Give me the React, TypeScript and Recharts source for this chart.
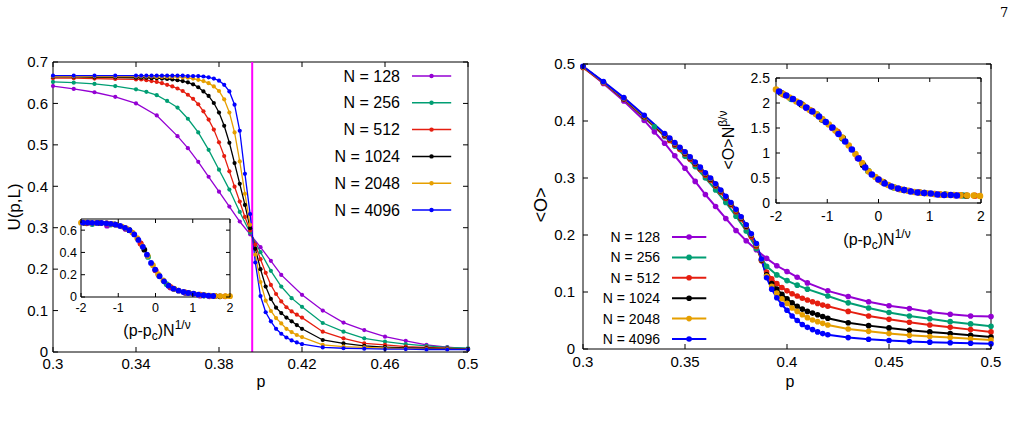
import { LineChart, Line, XAxis, YAxis, ReferenceLine } from 'recharts'

const FONT = '"Liberation Sans", Arial, Helvetica, sans-serif'

const SIZES = ['128', '256', '512', '1024', '2048', '4096']
const COLORS = ['#9400d3', '#009e73', '#e51e10', '#000000', '#e69f00', '#0000ff']
const P_C = 0.396

// tick labels
const LEFT_X_TICKS = [0.3, 0.34, 0.38, 0.42, 0.46, 0.5]
const LEFT_Y_TICKS = [0, 0.1, 0.2, 0.3, 0.4, 0.5, 0.6, 0.7]
const RIGHT_X_TICKS = [0.3, 0.35, 0.4, 0.45, 0.5]
const RIGHT_Y_TICKS = [0, 0.1, 0.2, 0.3, 0.4, 0.5]
const INSET_X_TICKS = [-2, -1, 0, 1, 2]
const LEFT_INSET_Y_TICKS = [0, 0.2, 0.4, 0.6]
const RIGHT_INSET_Y_TICKS = [0, 0.5, 1, 1.5, 2, 2.5]

// p grids
const P_U128 = [0.30, 0.31, 0.32, 0.33, 0.34, 0.35, 0.36, 0.365, 0.37, 0.375, 0.38, 0.385, 0.39, 0.395, 0.40, 0.405, 0.41, 0.42, 0.43, 0.44, 0.45, 0.46, 0.47, 0.48, 0.49, 0.50]
const P_U256 = [0.30, 0.31, 0.32, 0.33, 0.34, 0.345, 0.35, 0.355, 0.36, 0.365, 0.37, 0.375, 0.38, 0.385, 0.39, 0.395, 0.40, 0.405, 0.41, 0.415, 0.42, 0.43, 0.44, 0.45, 0.46, 0.47, 0.48, 0.49, 0.50]
const P_DENSE = [
  0.30, 0.31, 0.32, 0.33,
  0.34, 0.3425, 0.345, 0.3475, 0.35, 0.3525, 0.355, 0.3575, 0.36, 0.3625, 0.365, 0.3675, 0.37, 0.3725, 0.375, 0.3775, 0.38,
  0.3825, 0.385, 0.3875, 0.39, 0.3925, 0.395, 0.3975, 0.40, 0.4025, 0.405, 0.4075, 0.41, 0.4125, 0.415, 0.4175, 0.42,
  0.43, 0.44, 0.45, 0.46, 0.47, 0.48, 0.49, 0.50,
]
const P_O_SPARSE = [0.30, 0.31, 0.32, 0.33, 0.335, 0.34, 0.345, 0.35, 0.355, 0.36, 0.365, 0.37, 0.375, 0.38, 0.385, 0.39, 0.395, 0.40, 0.405, 0.41, 0.42, 0.43, 0.44, 0.45, 0.46, 0.47, 0.48, 0.49, 0.50]

// U(p,L)
const U128 = [0.642, 0.635, 0.627, 0.616, 0.600, 0.571, 0.521, 0.492, 0.459, 0.423, 0.387, 0.351, 0.315, 0.284, 0.253, 0.220, 0.186, 0.138, 0.100, 0.071, 0.053, 0.037, 0.027, 0.017, 0.012, 0.008]
const U256 = [0.652, 0.650, 0.647, 0.642, 0.634, 0.628, 0.620, 0.606, 0.590, 0.563, 0.530, 0.488, 0.440, 0.392, 0.338, 0.288, 0.241, 0.196, 0.158, 0.130, 0.109, 0.070, 0.049, 0.033, 0.025, 0.019, 0.015, 0.011, 0.009]
const U512 = [
  0.661, 0.661, 0.660, 0.659,
  0.658, 0.658, 0.656, 0.654, 0.652, 0.649, 0.645, 0.641, 0.636, 0.630, 0.621, 0.611, 0.598, 0.581, 0.561, 0.537, 0.506,
  0.473, 0.436, 0.399, 0.363, 0.326, 0.293, 0.259, 0.224, 0.191, 0.162, 0.140, 0.122, 0.108, 0.098, 0.090, 0.083,
  0.049, 0.033, 0.021, 0.017, 0.013, 0.011, 0.009, 0.007,
]
const U1024 = [
  0.664, 0.664, 0.663, 0.663,
  0.662, 0.662, 0.662, 0.661, 0.661, 0.660, 0.659, 0.658, 0.656, 0.654, 0.651, 0.646, 0.639, 0.629, 0.618, 0.601, 0.578,
  0.546, 0.505, 0.456, 0.406, 0.355, 0.299, 0.249, 0.200, 0.158, 0.128, 0.107, 0.094, 0.083, 0.074, 0.065, 0.056,
  0.029, 0.021, 0.015, 0.012, 0.010, 0.009, 0.008, 0.007,
]
const U2048 = [
  0.665, 0.665, 0.665, 0.665,
  0.665, 0.665, 0.665, 0.665, 0.664, 0.664, 0.664, 0.664, 0.664, 0.663, 0.662, 0.660, 0.657, 0.654, 0.649, 0.641, 0.630,
  0.610, 0.578, 0.530, 0.460, 0.382, 0.307, 0.235, 0.169, 0.124, 0.099, 0.082, 0.069, 0.056, 0.048, 0.041, 0.036,
  0.017, 0.013, 0.011, 0.009, 0.008, 0.007, 0.007, 0.006,
]
const U4096 = [
  0.667, 0.667, 0.667, 0.667,
  0.667, 0.667, 0.667, 0.667, 0.667, 0.667, 0.667, 0.667, 0.667, 0.667, 0.666, 0.666, 0.666, 0.665, 0.663, 0.660, 0.655,
  0.645, 0.629, 0.597, 0.534, 0.430, 0.333, 0.216, 0.135, 0.096, 0.074, 0.056, 0.044, 0.035, 0.028, 0.023, 0.019,
  0.011, 0.009, 0.008, 0.007, 0.007, 0.006, 0.006, 0.006,
]

// <O>
const O128 = [0.495, 0.466, 0.435, 0.401, 0.381, 0.361, 0.339, 0.317, 0.294, 0.271, 0.250, 0.229, 0.208, 0.190, 0.174, 0.159, 0.146, 0.136, 0.126, 0.116, 0.102, 0.092, 0.083, 0.076, 0.071, 0.065, 0.061, 0.058, 0.057]
const O256 = [0.495, 0.468, 0.438, 0.406, 0.390, 0.373, 0.356, 0.338, 0.320, 0.300, 0.279, 0.257, 0.233, 0.207, 0.176, 0.145, 0.130, 0.120, 0.112, 0.105, 0.093, 0.081, 0.072, 0.064, 0.058, 0.053, 0.048, 0.044, 0.040]
const O512 = [
  0.494, 0.467, 0.438, 0.407,
  0.374, 0.366, 0.358, 0.350, 0.342, 0.333, 0.324, 0.315, 0.305, 0.296, 0.286, 0.275, 0.264, 0.253, 0.241, 0.228, 0.214,
  0.197, 0.180, 0.155, 0.135, 0.123, 0.115, 0.108, 0.102, 0.097, 0.093, 0.089, 0.086, 0.083, 0.080, 0.077, 0.075,
  0.066, 0.058, 0.052, 0.047, 0.042, 0.038, 0.034, 0.030,
]
const O1024 = [
  0.495, 0.468, 0.439, 0.408,
  0.376, 0.368, 0.360, 0.352, 0.344, 0.335, 0.326, 0.317, 0.307, 0.298, 0.288, 0.277, 0.266, 0.255, 0.243, 0.230, 0.216,
  0.200, 0.182, 0.156, 0.130, 0.115, 0.105, 0.096, 0.088, 0.081, 0.075, 0.070, 0.066, 0.063, 0.060, 0.057, 0.054,
  0.046, 0.041, 0.037, 0.033, 0.030, 0.027, 0.024, 0.021,
]
const O2048 = [
  0.495, 0.468, 0.440, 0.409,
  0.377, 0.369, 0.361, 0.353, 0.345, 0.336, 0.327, 0.318, 0.308, 0.299, 0.289, 0.278, 0.267, 0.256, 0.244, 0.231, 0.217,
  0.201, 0.183, 0.157, 0.128, 0.110, 0.098, 0.088, 0.080, 0.072, 0.066, 0.060, 0.055, 0.051, 0.048, 0.045, 0.042,
  0.035, 0.031, 0.027, 0.024, 0.022, 0.020, 0.018, 0.016,
]
const O4096 = [
  0.496, 0.469, 0.441, 0.410,
  0.378, 0.370, 0.362, 0.354, 0.346, 0.337, 0.328, 0.319, 0.309, 0.300, 0.290, 0.279, 0.268, 0.257, 0.245, 0.232, 0.218,
  0.202, 0.185, 0.158, 0.125, 0.105, 0.090, 0.078, 0.068, 0.058, 0.050, 0.043, 0.038, 0.034, 0.030, 0.027, 0.025,
  0.020, 0.017, 0.015, 0.013, 0.012, 0.011, 0.010, 0.009,
]

// inset: U vs (p-pc)N^(1/nu)
const INS_U128 = [[-1.3, 0.64], [-0.8, 0.61], [-0.4, 0.48], [0, 0.24], [0.4, 0.085], [0.8, 0.035], [1.2, 0.012], [1.45, 0.006]]
const INS_U256 = [[-1.7, 0.655], [-1.2, 0.65], [-0.7, 0.598], [-0.2, 0.36], [0.3, 0.115], [0.8, 0.04], [1.3, 0.013], [1.6, 0.008]]
const INS_U512 = [[-1.85, 0.662], [-1.3, 0.66], [-0.8, 0.618], [-0.4, 0.48], [0, 0.24], [0.4, 0.09], [0.8, 0.042], [1.2, 0.02], [1.6, 0.01], [1.87, 0.006]]
const INS_U1024 = [[-1.9, 0.665], [-1.5, 0.664], [-1.1, 0.652], [-0.7, 0.6], [-0.3, 0.425], [0.1, 0.19], [0.5, 0.073], [0.9, 0.035], [1.3, 0.015], [1.73, 0.006]]
const INS_U2048 = [
  [-2.0, 0.667], [-1.88, 0.667], [-1.74, 0.666], [-1.6, 0.665], [-1.46, 0.664], [-1.32, 0.661], [-1.18, 0.656], [-1.04, 0.647],
  [-0.9, 0.632], [-0.76, 0.612], [-0.62, 0.578], [-0.49, 0.528], [-0.35, 0.455], [-0.21, 0.37], [-0.07, 0.285], [0.07, 0.205],
  [0.21, 0.148], [0.35, 0.104], [0.49, 0.074], [0.62, 0.057], [0.76, 0.044], [0.9, 0.035], [1.04, 0.028], [1.18, 0.021],
  [1.32, 0.016], [1.46, 0.012], [1.6, 0.01], [1.74, 0.008], [1.88, 0.007], [2.0, 0.007],
]
const INS_U4096 = [
  [-1.95, 0.667], [-1.82, 0.667], [-1.7, 0.666], [-1.57, 0.665], [-1.45, 0.664], [-1.32, 0.661], [-1.2, 0.657], [-1.07, 0.649],
  [-0.95, 0.637], [-0.82, 0.621], [-0.7, 0.6], [-0.57, 0.562], [-0.46, 0.512], [-0.34, 0.45], [-0.23, 0.38], [-0.12, 0.306],
  [-0.01, 0.246], [0.11, 0.186], [0.23, 0.141], [0.35, 0.102], [0.48, 0.075], [0.62, 0.057], [0.75, 0.045], [0.88, 0.036],
  [1.02, 0.029], [1.15, 0.021], [1.29, 0.016], [1.42, 0.012], [1.55, 0.009],
]

// inset: <O>N^(beta/nu) vs (p-pc)N^(1/nu)
const INS_O128 = [[-1.4, 1.9], [-0.9, 1.5], [-0.4, 0.9], [0.1, 0.41], [0.6, 0.24], [1.1, 0.18], [1.5, 0.155]]
const INS_O256 = [[-1.7, 2.08], [-1.2, 1.77], [-0.7, 1.29], [-0.2, 0.64], [0.3, 0.31], [0.8, 0.21], [1.3, 0.165], [1.65, 0.15]]
const INS_O512 = [[-1.85, 2.17], [-1.3, 1.84], [-0.8, 1.42], [-0.4, 0.9], [0, 0.47], [0.4, 0.28], [0.8, 0.21], [1.2, 0.17], [1.6, 0.155], [1.88, 0.145]]
const INS_O1024 = [[-1.9, 2.2], [-1.5, 1.97], [-1.1, 1.67], [-0.7, 1.3], [-0.3, 0.76], [0.1, 0.41], [0.5, 0.26], [0.9, 0.2], [1.3, 0.165], [1.72, 0.145]]
const INS_O2048 = [
  [-2.0, 2.27], [-1.88, 2.19], [-1.74, 2.11], [-1.6, 2.03], [-1.47, 1.95], [-1.34, 1.86], [-1.22, 1.78], [-1.1, 1.68],
  [-0.97, 1.57], [-0.84, 1.45], [-0.71, 1.31], [-0.58, 1.15], [-0.45, 0.98], [-0.32, 0.8], [-0.19, 0.63], [-0.06, 0.52],
  [0.06, 0.43], [0.19, 0.36], [0.31, 0.31], [0.44, 0.27], [0.57, 0.245], [0.7, 0.22], [0.82, 0.205], [0.95, 0.195],
  [1.08, 0.18], [1.21, 0.17], [1.34, 0.165], [1.47, 0.16], [1.6, 0.155], [1.73, 0.15], [1.86, 0.15], [1.98, 0.14],
]
const INS_O4096 = [
  [-1.94, 2.23], [-1.8, 2.15], [-1.67, 2.08], [-1.54, 2.0], [-1.41, 1.91], [-1.29, 1.83], [-1.16, 1.73], [-1.03, 1.62],
  [-0.9, 1.51], [-0.78, 1.38], [-0.65, 1.23], [-0.52, 1.07], [-0.39, 0.89], [-0.26, 0.71], [-0.13, 0.57], [0.0, 0.47],
  [0.12, 0.39], [0.25, 0.33], [0.38, 0.29], [0.5, 0.26], [0.63, 0.23], [0.76, 0.21], [0.89, 0.2], [1.02, 0.19],
  [1.15, 0.17], [1.28, 0.16], [1.41, 0.16], [1.53, 0.15],
]

const zip = (xs: number[], ys: number[]) => xs.map((p, i) => ({ p, v: ys[i] }))
const pairs = (pts: number[][]) => pts.map(([p, v]) => ({ p, v }))

const leftSeries = [zip(P_U128, U128), zip(P_U256, U256), zip(P_DENSE, U512), zip(P_DENSE, U1024), zip(P_DENSE, U2048), zip(P_DENSE, U4096)]
const rightSeries = [zip(P_O_SPARSE, O128), zip(P_O_SPARSE, O256), zip(P_DENSE, O512), zip(P_DENSE, O1024), zip(P_DENSE, O2048), zip(P_DENSE, O4096)]
const leftInset = [INS_U128, INS_U256, INS_U512, INS_U1024, INS_U2048, INS_U4096].map(pairs)
const rightInset = [INS_O128, INS_O256, INS_O512, INS_O1024, INS_O2048, INS_O4096].map(pairs)

type Box = { l: number; t: number; r: number; b: number; len: number; fs: number; xGap: number; yGap: number }

const makeXTick = (box: Box) => (props: any) => {
  const { x, payload } = props
  return (
    <g>
      <line x1={x} x2={x} y1={box.b} y2={box.b - box.len} stroke="#000" />
      <line x1={x} x2={x} y1={box.t} y2={box.t + box.len} stroke="#000" />
      <text x={x} y={box.b + box.xGap} dy="0.35em" textAnchor="middle" fontSize={box.fs} fontFamily={FONT} fill="#000">
        {String(payload.value)}
      </text>
    </g>
  )
}

const makeYTick = (box: Box) => (props: any) => {
  const { y, payload } = props
  return (
    <g>
      <line x1={box.l} x2={box.l + box.len} y1={y} y2={y} stroke="#000" />
      <line x1={box.r} x2={box.r - box.len} y1={y} y2={y} stroke="#000" />
      <text x={box.l - box.yGap} y={y} dy="0.35em" textAnchor="end" fontSize={box.fs} fontFamily={FONT} fill="#000">
        {String(payload.value)}
      </text>
    </g>
  )
}

function Panel(props: {
  x0: number; y0: number; w: number; h: number; box: Box
  xDomain: number[]; yDomain: number[]; xTicks: number[]; yTicks: number[]
  series: { p: number; v: number }[][]; lineW: number; dotR: number; vline?: number
}) {
  const { x0, y0, w, h, box, xDomain, yDomain, xTicks, yTicks, series, lineW, dotR, vline } = props
  return (
    <div style={{ position: 'absolute', left: x0, top: y0 }}>
      <LineChart width={w} height={h} margin={{ top: box.t, right: w - box.r, bottom: 0, left: 0 }}>
        <XAxis type="number" dataKey="p" domain={xDomain} ticks={xTicks} interval={0} allowDataOverflow
          height={h - box.b} tickSize={0} tickLine={false} axisLine={{ stroke: '#000' }} tick={makeXTick(box)} />
        <YAxis type="number" domain={yDomain} ticks={yTicks} interval={0} allowDataOverflow
          width={box.l} tickSize={0} tickLine={false} axisLine={{ stroke: '#000' }} tick={makeYTick(box)} />
        <ReferenceLine y={yDomain[1]} stroke="#000" />
        <ReferenceLine x={xDomain[1]} stroke="#000" />
        {vline !== undefined && <ReferenceLine x={vline} stroke="#ff00ff" strokeWidth={2} />}
        {series.map((d, i) => (
          <Line key={SIZES[i]} data={d} dataKey="v" type="linear"
            stroke={lineW > 0 ? COLORS[i] : 'none'} strokeWidth={lineW}
            dot={{ r: dotR, fill: COLORS[i], stroke: 'none', clipDot: false }}
            activeDot={false} isAnimationActive={false} />
        ))}
      </LineChart>
    </div>
  )
}

function Legend({ x, y0, step, fs, lineW, dotR }: { x: number; y0: number; step: number; fs: number; lineW: number; dotR: number }) {
  return (
    <g>
      {SIZES.map((n, i) => {
        const y = y0 + i * step
        return (
          <g key={n}>
            <text x={x} y={y} dy="0.35em" textAnchor="end" fontSize={fs} fontFamily={FONT}>{`N = ${n}`}</text>
            <line x1={x + 12} x2={x + 12 + fs * 2.45} y1={y} y2={y} stroke={COLORS[i]} strokeWidth={lineW} />
            <circle cx={x + 12 + fs * 1.22} cy={y} r={dotR} fill={COLORS[i]} />
          </g>
        )
      })}
    </g>
  )
}

export default function App() {
  return (
    <div style={{ position: 'absolute', left: 0, top: 0, width: 1018, height: 423, background: '#fff', overflow: 'hidden' }}>
      <Panel x0={0} y0={0} w={500} h={400}
        box={{ l: 53, t: 62, r: 468, b: 352, len: 5, fs: 15, xGap: 12, yGap: 5 }}
        xDomain={[0.3, 0.5]} yDomain={[0, 0.7]} xTicks={LEFT_X_TICKS} yTicks={LEFT_Y_TICKS}
        series={leftSeries} lineW={1.3} dotR={2.1} vline={P_C} />
      <Panel x0={520} y0={0} w={498} h={400}
        box={{ l: 63, t: 64, r: 471, b: 349, len: 5, fs: 15, xGap: 13, yGap: 8 }}
        xDomain={[0.3, 0.5]} yDomain={[0, 0.5]} xTicks={RIGHT_X_TICKS} yTicks={RIGHT_Y_TICKS}
        series={rightSeries} lineW={2} dotR={2.8} />
      <Panel x0={30} y0={200} w={220} h={130}
        box={{ l: 51, t: 19, r: 200, b: 97, len: 4, fs: 12.5, xGap: 11, yGap: 4 }}
        xDomain={[-2, 2]} yDomain={[0, 0.7]} xTicks={INSET_X_TICKS} yTicks={LEFT_INSET_Y_TICKS}
        series={leftInset} lineW={0} dotR={2.9} />
      <Panel x0={730} y0={60} w={280} h={170}
        box={{ l: 46, t: 18, r: 251, b: 143, len: 4, fs: 14, xGap: 13, yGap: 6 }}
        xDomain={[-2, 2]} yDomain={[0, 2.5]} xTicks={INSET_X_TICKS} yTicks={RIGHT_INSET_Y_TICKS}
        series={rightInset} lineW={0} dotR={3.3} />
      <svg width={1018} height={423} style={{ position: 'absolute', left: 0, top: 0, pointerEvents: 'none' }} fontFamily={FONT}>
        <text x={1000} y={17} fontSize={13} fontFamily='"DejaVu Serif", "Liberation Serif", serif'>7</text>
        <text x={14} y={207} transform="rotate(-90 14 207)" textAnchor="middle" dy="0.35em" fontSize={17}>U(p,L)</text>
        <text x={261} y={381} textAnchor="middle" dy="0.35em" fontSize={16}>p</text>
        <text x={790} y={381} textAnchor="middle" dy="0.35em" fontSize={16}>p</text>
        <text x={541} y={205} transform="rotate(-90 541 205)" textAnchor="middle" dy="0.35em" fontSize={18}>{'<O>'}</text>
        <text x={157} y={336} textAnchor="middle" fontSize={16}>
          (p-p<tspan dy={4} fontSize={12}>c</tspan><tspan dy={-4}>)N</tspan><tspan dy={-7} fontSize={12}>1/ν</tspan>
        </text>
        <text x={877} y={245} textAnchor="middle" fontSize={16}>
          (p-p<tspan dy={4} fontSize={12}>c</tspan><tspan dy={-4}>)N</tspan><tspan dy={-7} fontSize={12}>1/ν</tspan>
        </text>
        <text x={734} y={140} transform="rotate(-90 734 140)" textAnchor="middle" fontSize={16}>
          {'<O>N'}<tspan dy={-7} fontSize={12}>β/ν</tspan>
        </text>
        <Legend x={400} y0={76} step={26.8} fs={16} lineW={1.5} dotR={2.2} />
        <Legend x={660} y0={237} step={20.4} fs={14} lineW={2} dotR={2.8} />
      </svg>
    </div>
  )
}
